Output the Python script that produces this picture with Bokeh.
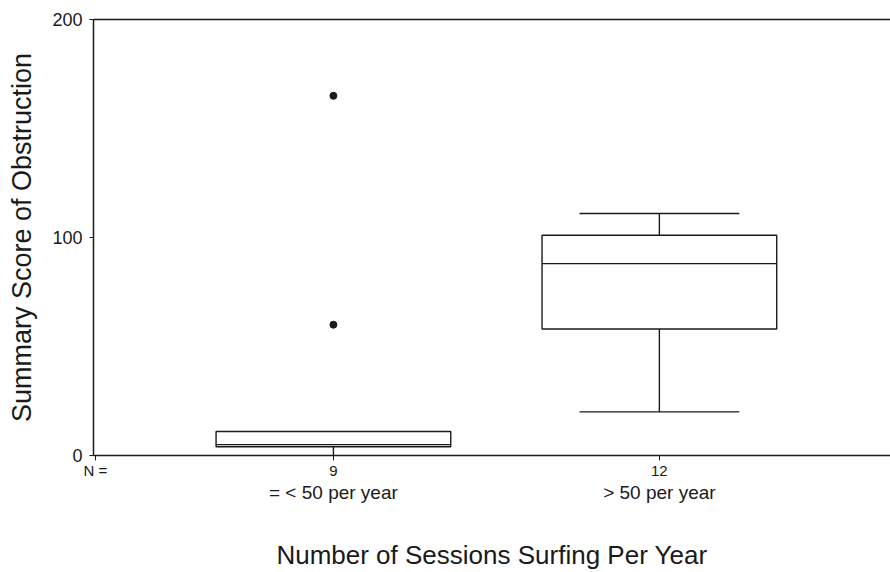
from bokeh.plotting import figure
from bokeh.models import Range1d, LinearAxis, FixedTicker
from bokeh.embed import file_html
from bokeh.resources import INLINE

# ---- data ----
groups = ["= < 50 per year", "> 50 per year"]
n_counts = ["9", "12"]
n_label = "N ="
xpos = [1, 2]
q1 = [4, 58]
median = [5, 88]
q3 = [11, 101]
whisk_lo = [0, 20]
whisk_hi = [11, 111]
outlier_x = [1, 1]
outlier_y = [165, 60]
y_ticks = [0, 100, 200]

FONT = "Liberation Sans"
INK = "#1a1a1a"
X0 = 0.264

p = figure(width=890, height=572, output_backend="svg", toolbar_location=None,
           x_range=Range1d(X0, 2.709), y_range=Range1d(0, 200),
           min_border_left=93, min_border_top=19, min_border_bottom=115,
           min_border_right=0, x_axis_location=None, y_axis_location=None)
p.outline_line_color = None
p.xgrid.visible = False
p.ygrid.visible = False
p.background_fill_color = "white"

# y axis
ya = LinearAxis(ticker=FixedTicker(ticks=y_ticks), axis_label="Summary Score of Obstruction")
ya.axis_line_color = INK
ya.axis_line_width = 1.5
ya.major_tick_line_color = INK
ya.major_tick_out = 4
ya.major_tick_in = 0
ya.minor_tick_line_color = None
ya.major_label_text_font = FONT
ya.major_label_text_font_size = "18px"
ya.major_label_text_color = INK
ya.major_label_standoff = 7
ya.axis_label_text_font = FONT
ya.axis_label_text_font_size = "27px"
ya.axis_label_text_font_style = "normal"
ya.axis_label_text_color = INK
ya.axis_label_standoff = 12
p.add_layout(ya, "left")

# top frame line
ta = LinearAxis(ticker=FixedTicker(ticks=[]))
ta.axis_line_color = INK
ta.axis_line_width = 1.5
ta.major_tick_line_color = None
ta.minor_tick_line_color = None
ta.major_label_text_font_size = "0px"
p.add_layout(ta, "above")

# bottom axis with N counts
overrides = {X0 + 0.006: n_label}
overrides.update({x: n for x, n in zip(xpos, n_counts)})
xa = LinearAxis(ticker=FixedTicker(ticks=[X0 + 0.006] + xpos),
                major_label_overrides=overrides)
xa.axis_line_color = INK
xa.axis_line_width = 1.5
xa.major_tick_line_color = INK
xa.major_tick_out = 5
xa.major_tick_in = 0
xa.minor_tick_line_color = None
xa.major_label_text_font = FONT
xa.major_label_text_font_size = "15px"
xa.major_label_text_color = INK
xa.major_label_standoff = 1
p.add_layout(xa, "below")

# second bottom axis with group names and title
xb = LinearAxis(ticker=FixedTicker(ticks=xpos),
                major_label_overrides={x: g for x, g in zip(xpos, groups)},
                axis_label="Number of Sessions Surfing Per Year")
xb.axis_line_color = None
xb.major_tick_line_color = None
xb.major_tick_out = 0
xb.minor_tick_line_color = None
xb.major_label_text_font = FONT
xb.major_label_text_font_size = "19px"
xb.major_label_text_color = INK
xb.major_label_standoff = 0
xb.axis_label_text_font = FONT
xb.axis_label_text_font_size = "26px"
xb.axis_label_text_font_style = "normal"
xb.axis_label_text_color = INK
xb.axis_label_standoff = 34
p.add_layout(xb, "below")

box_w = 0.72
cap_w = 0.49
# whiskers
p.segment(x0=xpos, y0=whisk_lo, x1=xpos, y1=q1, line_color=INK, line_width=1.4)
p.segment(x0=xpos, y0=q3, x1=xpos, y1=whisk_hi, line_color=INK, line_width=1.4)
caps_x0 = [x - cap_w / 2 for x in xpos]
caps_x1 = [x + cap_w / 2 for x in xpos]
p.segment(x0=caps_x0[1:], y0=whisk_lo[1:], x1=caps_x1[1:], y1=whisk_lo[1:], line_color=INK, line_width=1.4)
p.segment(x0=caps_x0[1:], y0=whisk_hi[1:], x1=caps_x1[1:], y1=whisk_hi[1:], line_color=INK, line_width=1.4)
# boxes
p.vbar(x=xpos, bottom=q1, top=q3, width=box_w, fill_color="white",
       line_color=INK, line_width=1.4)
p.segment(x0=[x - box_w / 2 for x in xpos], y0=median,
          x1=[x + box_w / 2 for x in xpos], y1=median, line_color=INK, line_width=1.4)
# outliers
p.scatter(x=outlier_x, y=outlier_y, marker="circle", size=7, fill_color=INK, line_color=INK)

open("out.html", "w").write(file_html(p, INLINE))
